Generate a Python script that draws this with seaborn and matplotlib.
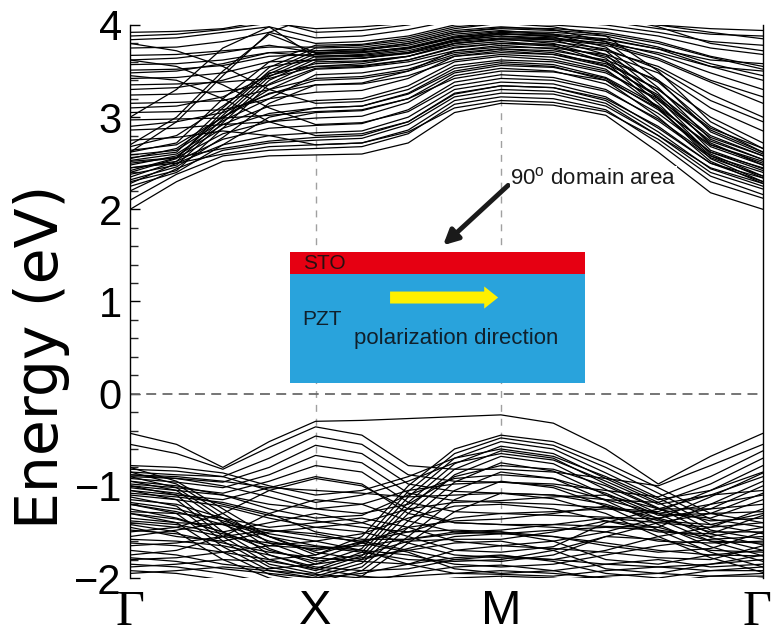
import numpy as np
import pandas as pd
import matplotlib
matplotlib.use("Agg")
import matplotlib.pyplot as plt
import matplotlib.transforms as mtransforms
import seaborn as sns
from matplotlib.patches import Rectangle, FancyArrow
from matplotlib.ticker import AutoMinorLocator, MultipleLocator

# ---------------- data ----------------
# k-path sample positions: Gamma -> X -> M -> Gamma (square lattice, |MG| = sqrt2)
kpath = [0.0, 0.25, 0.5, 0.75, 1.0, 1.25, 1.5, 1.75, 2.0, 2.283, 2.566, 2.849, 3.131, 3.414]
kpoint_pos = [0.0, 1.0, 2.0, 3.414]
kpoint_labels = ["\u0393", "X", "M", "\u0393"]

# conduction bands (eV) sampled on kpath
cb_low = [
    [2.00, 2.30, 2.52, 2.58, 2.59, 2.60, 2.72, 3.05, 3.15, 3.13, 3.02, 2.62, 2.18, 2.00],
    [2.10, 2.38, 2.58, 2.64, 2.66, 2.68, 2.82, 3.14, 3.22, 3.20, 3.08, 2.72, 2.30, 2.12],
    [2.20, 2.44, 2.64, 2.72, 2.75, 2.77, 2.92, 3.22, 3.30, 3.28, 3.15, 2.80, 2.40, 2.22],
    [2.28, 2.50, 2.70, 2.80, 2.83, 2.85, 3.00, 3.30, 3.38, 3.36, 3.22, 2.88, 2.50, 2.30],
    [2.35, 2.52, 2.76, 2.88, 2.91, 2.93, 3.08, 3.38, 3.46, 3.43, 3.30, 2.96, 2.56, 2.36],
    [2.42, 2.56, 2.82, 2.95, 2.99, 3.01, 3.16, 3.45, 3.53, 3.50, 3.36, 3.04, 2.62, 2.42],
    [2.48, 2.58, 2.88, 3.04, 3.10, 3.12, 3.26, 3.53, 3.60, 3.57, 3.43, 3.12, 2.68, 2.48],
    [2.53, 2.60, 2.92, 3.12, 3.18, 3.20, 3.34, 3.60, 3.66, 3.62, 3.50, 3.18, 2.74, 2.54],
    [2.59, 2.64, 2.96, 3.20, 3.27, 3.29, 3.42, 3.66, 3.72, 3.68, 3.55, 3.24, 2.80, 2.58],
    [2.64, 2.70, 3.00, 3.26, 3.35, 3.37, 3.50, 3.72, 3.78, 3.74, 3.60, 3.30, 2.86, 2.62],
    [2.45, 2.50, 2.60, 2.68, 2.70, 2.72, 2.84, 3.10, 3.18, 3.16, 3.06, 2.76, 2.36, 2.16],
    [2.52, 2.56, 2.66, 2.74, 2.78, 2.80, 2.95, 3.26, 3.34, 3.32, 3.18, 2.84, 2.44, 2.25],
]
cb_disp = [
    [2.30, 2.42, 2.88, 3.36, 3.60, 3.61, 3.66, 3.78, 3.82, 3.78, 3.60, 3.10, 2.55, 2.30],
    [2.38, 2.48, 2.94, 3.40, 3.63, 3.64, 3.69, 3.80, 3.85, 3.80, 3.64, 3.15, 2.60, 2.36],
    [2.45, 2.52, 2.98, 3.44, 3.66, 3.67, 3.72, 3.84, 3.88, 3.84, 3.68, 3.20, 2.64, 2.44],
    [2.50, 2.56, 3.02, 3.47, 3.69, 3.70, 3.75, 3.87, 3.91, 3.87, 3.72, 3.26, 2.70, 2.50],
    [2.40, 2.55, 3.06, 3.50, 3.72, 3.73, 3.78, 3.90, 3.94, 3.90, 3.76, 3.32, 2.76, 2.54],
    [2.56, 2.62, 3.10, 3.54, 3.75, 3.76, 3.82, 3.94, 3.98, 3.95, 3.82, 3.40, 2.84, 2.60],
    [2.62, 2.72, 3.20, 3.60, 3.78, 3.79, 3.86, 3.98, 4.02, 3.98, 3.88, 3.50, 2.95, 2.66],
    [2.25, 2.40, 2.70, 3.00, 3.10, 3.12, 3.25, 3.50, 3.58, 3.55, 3.40, 3.00, 2.52, 2.28],
    [2.32, 2.46, 2.78, 3.15, 3.35, 3.36, 3.45, 3.62, 3.68, 3.65, 3.52, 3.10, 2.58, 2.34],
    [2.55, 2.66, 3.00, 3.30, 3.42, 3.44, 3.52, 3.68, 3.74, 3.70, 3.56, 3.22, 2.72, 2.48],
    [2.68, 2.80, 3.12, 3.48, 3.55, 3.56, 3.62, 3.76, 3.80, 3.77, 3.66, 3.38, 2.90, 2.62],
]
cb_flat = [
    [2.75, 2.78, 2.85, 2.80, 2.70, 2.72, 2.86, 3.18, 3.26, 3.25, 3.12, 2.80, 2.45, 2.28],
    [2.86, 2.88, 2.92, 2.95, 3.05, 3.07, 3.20, 3.48, 3.56, 3.54, 3.42, 3.08, 2.62, 2.45],
    [2.90, 2.95, 3.05, 3.25, 3.40, 3.42, 3.50, 3.66, 3.70, 3.68, 3.58, 3.30, 2.88, 2.66],
    [2.97, 2.98, 2.99, 3.02, 3.06, 3.08, 3.20, 3.42, 3.50, 3.49, 3.40, 3.10, 2.70, 2.52],
    [3.05, 3.06, 3.08, 3.20, 3.46, 3.48, 3.56, 3.70, 3.74, 3.72, 3.62, 3.40, 3.00, 2.72],
    [3.10, 3.12, 3.22, 3.45, 3.58, 3.60, 3.66, 3.80, 3.84, 3.82, 3.74, 3.52, 3.18, 2.95],
    [3.15, 3.16, 3.18, 3.30, 3.52, 3.54, 3.60, 3.72, 3.76, 3.75, 3.68, 3.48, 3.10, 2.85],
    [3.24, 3.25, 3.28, 3.35, 3.53, 3.55, 3.62, 3.75, 3.80, 3.79, 3.72, 3.55, 3.25, 3.00],
    [3.30, 3.32, 3.40, 3.55, 3.62, 3.64, 3.70, 3.83, 3.88, 3.86, 3.80, 3.64, 3.40, 3.22],
    [3.35, 3.36, 3.38, 3.42, 3.55, 3.58, 3.66, 3.80, 3.85, 3.84, 3.78, 3.62, 3.38, 3.15],
    [3.42, 3.43, 3.48, 3.60, 3.62, 3.64, 3.70, 3.84, 3.90, 3.89, 3.82, 3.68, 3.48, 3.30],
    [3.48, 3.50, 3.58, 3.70, 3.66, 3.68, 3.74, 3.86, 3.92, 3.90, 3.85, 3.74, 3.55, 3.40],
    [3.51, 3.52, 3.56, 3.66, 3.68, 3.70, 3.76, 3.88, 3.93, 3.92, 3.88, 3.76, 3.58, 3.45],
    [3.57, 3.58, 3.62, 3.70, 3.72, 3.74, 3.80, 3.92, 3.97, 3.96, 3.92, 3.82, 3.66, 3.55],
    [3.62, 3.64, 3.70, 3.78, 3.70, 3.72, 3.80, 3.92, 3.96, 3.94, 3.90, 3.80, 3.65, 3.52],
    [3.67, 3.68, 3.72, 3.76, 3.76, 3.78, 3.84, 3.96, 4.02, 4.00, 3.96, 3.88, 3.75, 3.68],
    [3.75, 3.76, 3.82, 3.92, 3.80, 3.82, 3.88, 4.00, 4.05, 4.04, 4.00, 3.92, 3.82, 3.78],
    [3.84, 3.86, 3.92, 3.98, 3.86, 3.88, 3.95, 4.05, 4.10, 4.08, 4.04, 3.96, 3.90, 3.88],
    [3.88, 3.90, 3.95, 4.02, 3.96, 3.98, 4.02, 4.08, 4.12, 4.10, 4.06, 4.00, 3.92, 3.85],
    [3.92, 3.93, 3.96, 4.05, 3.92, 3.94, 4.00, 4.10, 4.15, 4.12, 4.08, 4.00, 3.96, 3.94],
]
cb_peak = [
    [3.00, 3.30, 3.75, 3.98, 3.65, 3.66, 3.70, 3.82, 3.86, 3.85, 3.80, 3.70, 3.55, 3.50],
    [2.70, 3.00, 3.50, 3.90, 3.70, 3.71, 3.75, 3.86, 3.90, 3.88, 3.84, 3.74, 3.62, 3.58],
    [2.62, 2.95, 3.45, 3.92, 4.10, 4.10, 4.12, 4.15, 4.20, 4.18, 4.10, 3.98, 3.80, 3.72],
    [3.45, 3.40, 3.20, 2.95, 2.80, 2.82, 2.95, 3.25, 3.34, 3.32, 3.20, 2.90, 2.50, 2.34],
    [3.62, 3.55, 3.35, 3.10, 2.92, 2.94, 3.06, 3.34, 3.42, 3.40, 3.28, 2.98, 2.58, 2.40],
    [3.80, 3.72, 3.55, 3.30, 3.15, 3.17, 3.30, 3.56, 3.62, 3.60, 3.48, 3.20, 2.78, 2.58],
]

# valence bands (eV) sampled on kpath
vb_top = [
    [-0.43, -0.55, -0.80, -0.52, -0.30, -0.29, -0.27, -0.25, -0.23, -0.32, -0.60, -0.98, -0.68, -0.43],
    [-0.55, -0.65, -0.82, -0.58, -0.36, -0.45, -0.78, -0.82, -0.82, -0.85, -0.92, -1.00, -0.78, -0.55],
]
vb_rise = [
    [-0.85, -0.88, -0.90, -0.70, -0.46, -0.55, -0.88, -0.95, -0.96, -0.98, -1.05, -1.12, -0.90, -0.62],
    [-0.88, -0.92, -0.96, -0.80, -0.56, -0.65, -0.98, -1.06, -1.08, -1.10, -1.15, -1.18, -0.98, -0.70],
    [-0.92, -0.96, -1.02, -0.88, -0.67, -0.75, -1.08, -1.16, -1.18, -1.20, -1.24, -1.28, -1.05, -0.78],
    [-0.98, -1.02, -1.08, -0.95, -0.78, -0.85, -1.18, -1.28, -1.30, -1.32, -1.34, -1.36, -1.12, -0.86],
    [-1.05, -1.10, -1.15, -1.02, -0.90, -0.98, -1.30, -1.40, -1.42, -1.42, -1.44, -1.45, -1.20, -0.95],
]
vb_mpeak = [
    [-0.80, -0.95, -1.25, -1.55, -1.75, -1.55, -1.00, -0.60, -0.45, -0.52, -0.75, -1.02, -1.30, -1.40],
    [-0.85, -0.98, -1.30, -1.62, -1.80, -1.62, -1.06, -0.65, -0.48, -0.56, -0.80, -1.08, -1.36, -1.45],
    [-0.90, -1.02, -1.35, -1.68, -1.85, -1.68, -1.12, -0.70, -0.52, -0.60, -0.86, -1.13, -1.42, -1.52],
    [-0.95, -1.05, -1.40, -1.75, -1.90, -1.72, -1.18, -0.76, -0.57, -0.65, -0.92, -1.18, -1.48, -1.58],
    [-1.00, -1.10, -1.50, -1.80, -1.92, -1.76, -1.24, -0.82, -0.62, -0.70, -0.98, -1.24, -1.52, -1.64],
    [-1.05, -1.15, -1.55, -1.85, -1.95, -1.80, -1.30, -0.88, -0.68, -0.76, -1.04, -1.30, -1.56, -1.70],
    [-1.12, -1.22, -1.60, -1.88, -1.98, -1.84, -1.38, -0.96, -0.75, -0.84, -1.10, -1.36, -1.60, -1.76],
    [-1.20, -1.30, -1.66, -1.92, -2.00, -1.88, -1.45, -1.05, -0.85, -0.92, -1.16, -1.42, -1.66, -1.82],
    [-1.30, -1.40, -1.72, -1.96, -2.05, -1.92, -1.55, -1.15, -0.95, -1.02, -1.22, -1.48, -1.72, -1.88],
    [-1.42, -1.50, -1.80, -2.00, -2.10, -1.98, -1.62, -1.28, -1.08, -1.14, -1.30, -1.55, -1.78, -1.94],
]
vb_mid = [
    [-0.78, -0.80, -0.86, -1.00, -1.10, -1.05, -0.90, -0.70, -0.60, -0.68, -0.90, -1.15, -1.05, -0.85],
    [-0.82, -0.84, -0.90, -1.05, -1.18, -1.10, -0.95, -0.75, -0.65, -0.72, -0.95, -1.20, -1.10, -0.90],
    [-0.88, -0.90, -0.95, -1.02, -1.05, -1.08, -1.12, -1.10, -1.08, -1.10, -1.20, -1.38, -1.42, -1.30],
    [-0.90, -0.92, -1.00, -1.12, -1.25, -1.30, -1.20, -0.90, -0.78, -0.82, -1.00, -1.25, -1.25, -1.00],
    [-0.95, -1.00, -1.10, -1.25, -1.35, -1.32, -1.10, -0.92, -0.88, -0.92, -1.08, -1.32, -1.30, -1.08],
    [-1.00, -1.05, -1.10, -1.20, -1.25, -1.20, -1.05, -0.98, -0.96, -1.00, -1.15, -1.30, -1.20, -1.10],
    [-1.02, -1.08, -1.20, -1.32, -1.38, -1.45, -1.50, -1.35, -1.30, -1.28, -1.25, -1.30, -1.35, -1.15],
    [-1.08, -1.12, -1.18, -1.30, -1.50, -1.58, -1.58, -1.50, -1.48, -1.42, -1.35, -1.40, -1.45, -1.25],
    [-1.10, -1.15, -1.22, -1.35, -1.45, -1.40, -1.25, -1.18, -1.16, -1.12, -1.10, -1.25, -1.38, -1.35],
    [-1.18, -1.25, -1.38, -1.52, -1.60, -1.52, -1.35, -1.22, -1.20, -1.25, -1.38, -1.50, -1.52, -1.32],
    [-1.20, -1.28, -1.42, -1.60, -1.70, -1.62, -1.45, -1.38, -1.36, -1.30, -1.22, -1.35, -1.50, -1.50],
    [-1.28, -1.30, -1.35, -1.55, -1.72, -1.80, -1.68, -1.55, -1.52, -1.48, -1.45, -1.48, -1.55, -1.45],
    [-1.30, -1.36, -1.50, -1.70, -1.82, -1.75, -1.60, -1.58, -1.58, -1.50, -1.38, -1.45, -1.60, -1.62],
    [-1.38, -1.42, -1.52, -1.65, -1.68, -1.65, -1.58, -1.52, -1.50, -1.55, -1.65, -1.72, -1.68, -1.50],
    [-1.40, -1.45, -1.55, -1.62, -1.66, -1.72, -1.80, -1.82, -1.80, -1.70, -1.55, -1.58, -1.70, -1.72],
    [-1.50, -1.45, -1.30, -1.05, -0.92, -1.00, -1.25, -1.40, -1.42, -1.45, -1.50, -1.60, -1.62, -1.60],
    [-1.75, -1.70, -1.55, -1.30, -1.15, -1.20, -1.38, -1.50, -1.52, -1.55, -1.62, -1.70, -1.75, -1.76],
]
vb_deep = [
    [-1.15, -1.20, -1.35, -1.45, -1.40, -1.35, -1.45, -1.60, -1.65, -1.60, -1.50, -1.35, -1.25, -1.20],
    [-1.25, -1.35, -1.50, -1.40, -1.30, -1.40, -1.55, -1.70, -1.72, -1.66, -1.40, -1.25, -1.10, -1.05],
    [-1.35, -1.40, -1.42, -1.48, -1.55, -1.60, -1.70, -1.80, -1.82, -1.75, -1.55, -1.40, -1.30, -1.28],
    [-1.45, -1.55, -1.60, -1.50, -1.45, -1.50, -1.62, -1.75, -1.78, -1.80, -1.70, -1.55, -1.45, -1.40],
    [-1.48, -1.52, -1.62, -1.72, -1.78, -1.82, -1.85, -1.70, -1.65, -1.68, -1.72, -1.78, -1.80, -1.65],
    [-1.55, -1.48, -1.40, -1.55, -1.65, -1.70, -1.75, -1.85, -1.88, -1.85, -1.75, -1.65, -1.58, -1.55],
    [-1.58, -1.60, -1.65, -1.75, -1.88, -1.92, -1.90, -1.80, -1.76, -1.80, -1.85, -1.88, -1.85, -1.75],
    [-1.62, -1.65, -1.72, -1.80, -1.75, -1.60, -1.50, -1.48, -1.50, -1.60, -1.80, -1.85, -1.75, -1.70],
    [-1.65, -1.62, -1.55, -1.48, -1.52, -1.62, -1.72, -1.90, -1.95, -1.92, -1.85, -1.80, -1.88, -1.85],
    [-1.70, -1.75, -1.85, -1.90, -1.85, -1.78, -1.70, -1.62, -1.60, -1.70, -1.90, -1.95, -1.85, -1.80],
    [-1.78, -1.82, -1.90, -1.95, -2.00, -1.95, -1.85, -1.78, -1.75, -1.82, -1.95, -2.00, -1.92, -1.88],
    [-1.80, -1.78, -1.72, -1.65, -1.60, -1.70, -1.85, -1.95, -1.96, -1.98, -1.92, -1.88, -1.92, -1.92],
    [-1.85, -1.88, -1.95, -2.05, -2.10, -2.05, -1.95, -1.88, -1.86, -1.92, -2.02, -2.05, -1.98, -1.95],
    [-1.88, -1.85, -1.80, -1.82, -1.90, -1.98, -2.02, -2.05, -2.05, -2.02, -1.98, -1.95, -1.98, -1.98],
    [-1.92, -1.95, -2.02, -2.08, -2.12, -2.10, -2.05, -2.00, -1.98, -2.00, -2.08, -2.10, -2.05, -2.00],
    [-1.95, -1.92, -1.88, -1.92, -1.96, -2.00, -1.98, -1.95, -1.92, -1.95, -2.00, -2.05, -2.02, -2.05],
]

# ---------------- build long table ----------------
rows = []
bid = 0
for group in (cb_low, cb_disp, cb_flat, cb_peak, vb_top, vb_rise, vb_mpeak, vb_mid, vb_deep):
    for band in group:
        for k, e in zip(kpath, band):
            rows.append((bid, k, e))
        bid += 1
df = pd.DataFrame(rows, columns=["band", "k", "E"])

# ---------------- plot ----------------
sns.set_theme(style="white")
plt.rcParams["font.family"] = ["Liberation Sans", "DejaVu Sans"]
plt.rcParams["mathtext.fontset"] = "custom"
plt.rcParams["mathtext.rm"] = "Liberation Sans"

fig = plt.figure(figsize=(7.75, 6.37), dpi=100)
ax = fig.add_axes([0.168, 0.0926, 0.8165, 0.8682])

for kp in kpoint_pos[1:3]:
    ax.axvline(kp, color="#a0a0a0", lw=1.0, ls=(0, (5, 5)), zorder=1)
ax.axhline(0, color="#6a6a6a", lw=1.3, ls=(0, (5.5, 3.5)), zorder=1)

sns.lineplot(data=df, x="k", y="E", units="band", estimator=None, sort=False,
             color="black", linewidth=0.9, legend=False, ax=ax, zorder=2)

ax.set_xlim(kpath[0], kpath[-1])
ax.set_ylim(-2, 4)

for s in ("top", "bottom"):
    ax.spines[s].set_visible(False)
for s in ("left", "right"):
    ax.spines[s].set_color("black")
    ax.spines[s].set_linewidth(1.0)

ax.yaxis.set_major_locator(MultipleLocator(1))
ax.yaxis.set_minor_locator(AutoMinorLocator(5))
ax.tick_params(axis="y", which="major", direction="in", length=7, width=1,
               labelsize=30, pad=6, left=True, right=False, colors="black")
ax.tick_params(axis="y", which="minor", direction="in", length=6, width=1,
               left=True, right=False)
ax.set_yticks([4, 3, 2, 1, 0, -1, -2])
ax.set_yticklabels(["4", "3", "2", "1", "0", "\u22121", "\u22122"])

ax.set_xticks(kpoint_pos)
ax.set_xticklabels(kpoint_labels)
ax.tick_params(axis="x", length=0, pad=8)
xlabels = ax.get_xticklabels()
for lbl in xlabels:
    if lbl.get_text() == "\u0393":
        lbl.set_fontfamily("Liberation Serif")
        lbl.set_fontsize(36)
    else:
        lbl.set_fontsize(35)
    lbl.set_color("black")
shift = mtransforms.ScaledTranslation(-6 / 100, 0, fig.dpi_scale_trans)
xlabels[-1].set_transform(xlabels[-1].get_transform() + shift)

ax.set_xlabel("")
ax.set_ylabel("Energy (eV)", fontsize=42, family="DejaVu Sans", color="black")
ax.yaxis.set_label_coords(-0.095, 0.40)

# ---------------- inset schematic ----------------
ax.add_patch(Rectangle((0.863, 0.120), 2.454 - 0.863, 1.293 - 0.120,
                       facecolor="#29A3DC", edgecolor="none", zorder=5))
ax.add_patch(Rectangle((0.863, 1.293), 2.454 - 0.863, 1.533 - 1.293,
                       facecolor="#E60012", edgecolor="none", zorder=5))
ax.add_patch(FancyArrow(1.402, 1.043, 0.583, 0.0, width=0.13, head_width=0.24,
                        head_length=0.075, length_includes_head=True,
                        facecolor="#FFF000", edgecolor="none", zorder=6))
ax.text(0.93, 1.41, "STO", fontsize=15, color="#2a1010", va="center", ha="left", zorder=7)
ax.text(0.93, 0.80, "PZT", fontsize=15, color="#10202c", va="center", ha="left", zorder=7)
ax.text(1.205, 0.60, "polarization direction", fontsize=16, color="#10202c",
        va="center", ha="left", zorder=7)

ax.annotate("", xy=(1.688, 1.61), xytext=(2.039, 2.26),
            arrowprops=dict(arrowstyle="-|>", lw=3.5, color="#1a1a1a",
                            mutation_scale=22, shrinkA=0, shrinkB=0), zorder=7)
ax.text(2.05, 2.34, "90$^\\mathrm{o}$ domain area", fontsize=16, color="#1a1a1a",
        va="center", ha="left", zorder=7,
        bbox=dict(facecolor="white", edgecolor="none", pad=0.5))

fig.savefig("out.png", dpi=100, facecolor="white")
